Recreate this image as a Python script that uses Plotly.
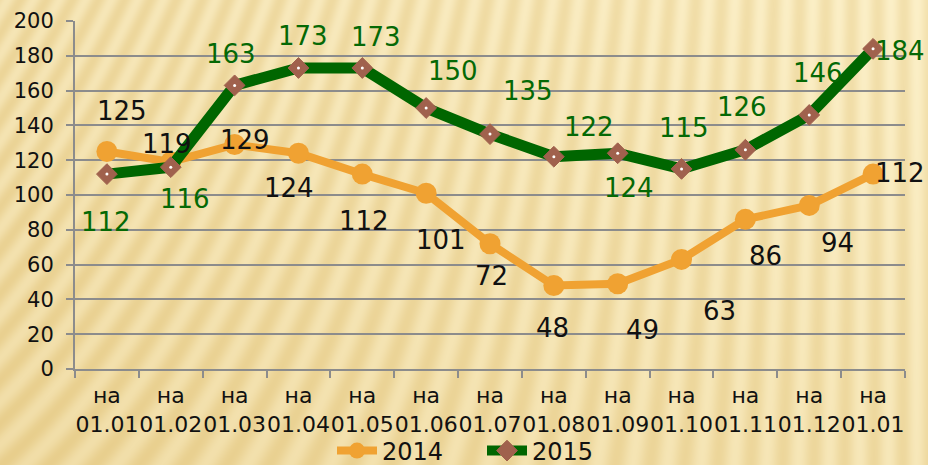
import base64, struct, zlib
import numpy as np
import plotly.graph_objects as go

# ---- data ----
categories = ["на<br>01.01", "на<br>01.02", "на<br>01.03", "на<br>01.04", "на<br>01.05",
              "на<br>01.06", "на<br>01.07", "на<br>01.08", "на<br>01.09", "на<br>01.10",
              "на<br>01.11", "на<br>01.12", "на<br>01.01"]
values_2014 = [125, 119, 129, 124, 112, 101, 72, 48, 49, 63, 86, 94, 112]
values_2015 = [112, 116, 163, 173, 173, 150, 135, 122, 124, 115, 126, 146, 184]
y_ticks = [0, 20, 40, 60, 80, 100, 120, 140, 160, 180, 200]

# label offsets in pixels (dx, dy up)
off_2014 = [(15, 41), (-4, 18), (10, 5), (-9, -35), (2, -47), (15, -47), (1, -32),
            (-1, -43), (25, -46), (38, -52), (20, -37), (28, -38), (27, 1)]
off_2015 = [(-1, -48), (14, -32), (-4, 31), (5, 32), (14, 31), (27, 37), (38, 43),
            (35, 30), (11, -35), (2, 41), (-3, 43), (9, 42), (27, -2)]

W, H = 928, 465
ML, MR, MT, MB = 75, 23, 21, 96

# ---- background texture (decorative) ----
def make_bg(w, h):
    yy, xx = np.mgrid[0:h, 0:w].astype(float)
    t = xx / w
    slope = 0.6 * (1 - t) ** 1.5
    phase = (xx + yy * slope) / 26.0
    s = 0.5 + 0.5 * np.sin(2 * np.pi * phase)
    g = 0.55 * (xx / w) + 0.45 * (1 - yy / h)
    m = np.clip(0.45 * s + 0.55 * g, 0, 1)[..., None]
    light = np.array([252, 240, 200], float)
    dark = np.array([232, 206, 140], float)
    img = (dark + (light - dark) * m).astype(np.uint8)
    raw = b"".join(b"\x00" + img[r].tobytes() for r in range(h))
    def chunk(tag, data):
        c = struct.pack(">I", len(data)) + tag + data
        return c + struct.pack(">I", zlib.crc32(tag + data) & 0xffffffff)
    png = b"\x89PNG\r\n\x1a\n" + chunk(b"IHDR", struct.pack(">IIBBBBB", w, h, 8, 2, 0, 0, 0)) \
        + chunk(b"IDAT", zlib.compress(raw, 9)) + chunk(b"IEND", b"")
    return "data:image/png;base64," + base64.b64encode(png).decode()

x = list(range(len(categories)))
ORANGE = "#F0A232"
GREEN = "#006600"
DIAMOND = "#A0614D"
GRAY = "#8C8C8C"
FONT = "DejaVu Sans"

fig = go.Figure()
fig.add_trace(go.Scatter(
    x=x, y=values_2014, name="2014", mode="lines+markers",
    line=dict(color=ORANGE, width=8),
    marker=dict(symbol="circle", size=21, color=ORANGE),
    hoverinfo="skip"))
fig.add_trace(go.Scatter(
    x=x, y=values_2015, name="2015", mode="lines+markers",
    line=dict(color=GREEN, width=11),
    marker=dict(symbol="diamond", size=16, color=DIAMOND, line=dict(color=DIAMOND, width=1)),
    hoverinfo="skip"))
fig.add_trace(go.Scatter(
    x=x, y=values_2015, mode="markers", showlegend=False,
    marker=dict(symbol="circle", size=3, color="white"), hoverinfo="skip"))

ann = []
for i, v in enumerate(values_2014):
    dx, dy = off_2014[i]
    ann.append(dict(x=x[i], y=v, text=str(v), showarrow=False, xshift=dx, yshift=dy,
                    font=dict(family=FONT, size=26, color="#111111")))
for i, v in enumerate(values_2015):
    dx, dy = off_2015[i]
    ann.append(dict(x=x[i], y=v, text=str(v), showarrow=False, xshift=dx, yshift=dy,
                    font=dict(family=FONT, size=26, color="#056905")))

pw = W - ML - MR
ph = H - MT - MB
fig.update_layout(
    width=W, height=H,
    margin=dict(l=ML, r=MR, t=MT, b=MB, autoexpand=False),
    paper_bgcolor="#F2DEA6", plot_bgcolor="rgba(0,0,0,0)",
    font=dict(family=FONT, size=22, color="#111111"),
    annotations=ann,
    images=[dict(source=make_bg(W, H), xref="paper", yref="paper",
                 x=-ML / pw, y=1 + MT / ph, sizex=W / pw, sizey=H / ph,
                 xanchor="left", yanchor="top", sizing="stretch", layer="below")],
    legend=dict(orientation="h", x=(332 - ML) / pw, xanchor="left",
                y=(H - 451) / H, yref="container", yanchor="middle",
                font=dict(family=FONT, size=24, color="#111111"),
                bgcolor="rgba(0,0,0,0)", itemwidth=40, tracegroupgap=0,
                entrywidth=95, borderwidth=0),
    showlegend=True,
)
fig.update_xaxes(
    range=[-0.5, len(categories) - 0.5], tickmode="array", tickvals=x, ticktext=categories,
    ticks="", showgrid=False, zeroline=False, showline=True, linecolor=GRAY, linewidth=2,
    tickfont=dict(family=FONT, size=22, color="#111111"), automargin=False, tickangle=0,
    ticklabelstandoff=6,
    minor=dict(tickmode="array", tickvals=[i - 0.5 for i in range(len(categories) + 1)],
               ticks="outside", ticklen=7, tickcolor=GRAY, tickwidth=2, showgrid=False),
    fixedrange=True)
fig.update_yaxes(
    range=[0, 200], tickmode="array", tickvals=y_ticks, ticks="outside", ticklen=7,
    tickcolor=GRAY, tickwidth=2, showgrid=True, gridcolor=GRAY, gridwidth=2,
    zeroline=False, showline=True, linecolor=GRAY, linewidth=2, automargin=False,
    ticklabelstandoff=8, tickfont=dict(family=FONT, size=21, color="#111111"),
    fixedrange=True)

fig.write_html("out.html", config={"displayModeBar": False, "staticPlot": True},
               post_script="document.body.style.margin='0';document.body.style.overflow='hidden';")
